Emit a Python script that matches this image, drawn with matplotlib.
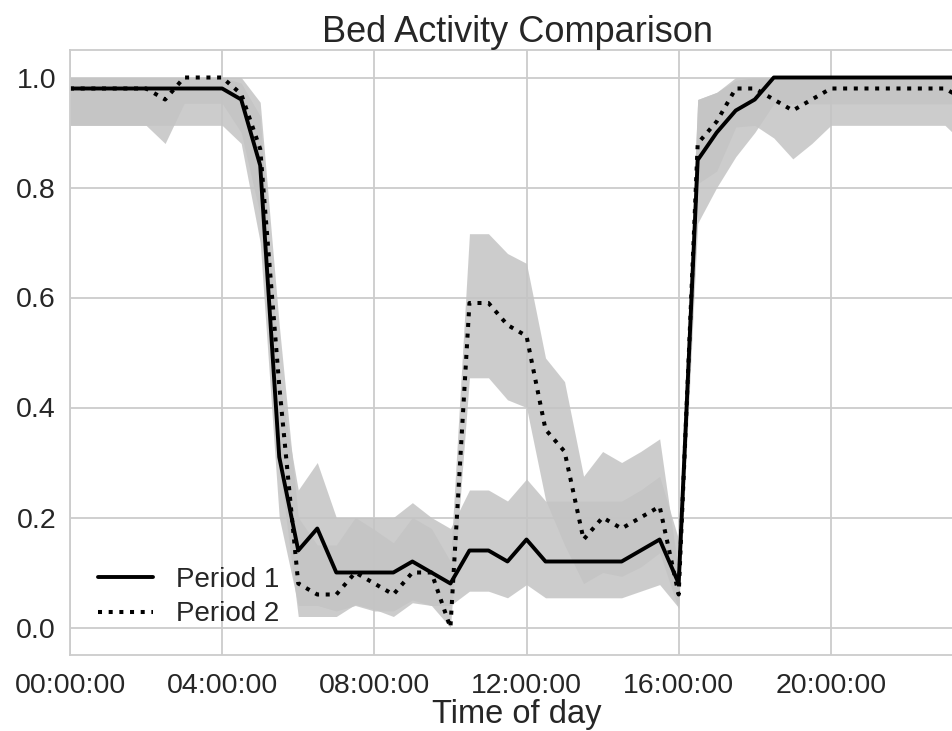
import numpy as np
import matplotlib
matplotlib.use("Agg")
import matplotlib.pyplot as plt
import seaborn as sns

# ---- data (30-minute steps, 00:00 .. 23:30) ----
hours = np.arange(48) * 0.5

period1_mean = [0.98] * 9 + [0.96, 0.84, 0.31, 0.14, 0.18, 0.10, 0.10, 0.10, 0.10,
                             0.12, 0.10, 0.08, 0.14, 0.14, 0.12, 0.16, 0.12, 0.12,
                             0.12, 0.12, 0.12, 0.14, 0.16, 0.08, 0.85, 0.90, 0.94,
                             0.96] + [1.0] * 11
period1_low = [0.913] * 9 + [0.88, 0.70, 0.20, 0.04, 0.04, 0.03, 0.04, 0.03, 0.03,
                             0.05, 0.04, 0.04, 0.066, 0.066, 0.054, 0.078, 0.054,
                             0.054, 0.054, 0.054, 0.054, 0.066, 0.078, 0.036, 0.735,
                             0.80, 0.856, 0.90] + [0.952] * 11
period1_high = [1.0] * 9 + [0.99, 0.93, 0.45, 0.25, 0.30, 0.20, 0.20, 0.20, 0.20,
                            0.227, 0.20, 0.18, 0.25, 0.25, 0.23, 0.27, 0.23, 0.23,
                            0.23, 0.23, 0.23, 0.25, 0.275, 0.16, 0.96, 0.973, 0.995,
                            1.0] + [1.0] * 11

period2_mean = [0.98] * 5 + [0.96, 1.0, 1.0, 1.0, 0.97, 0.87, 0.44, 0.08, 0.06, 0.06,
                             0.10, 0.08, 0.06, 0.10, 0.10, 0.00, 0.59, 0.59, 0.55,
                             0.53, 0.36, 0.32, 0.16, 0.20, 0.18, 0.20, 0.22, 0.06,
                             0.88, 0.92, 0.98, 0.98, 0.96, 0.94, 0.96] + [0.98] * 7 + [0.96]
period2_low = [0.913] * 5 + [0.88, 0.953, 0.953, 0.953, 0.90, 0.75, 0.30, 0.02, 0.02,
                             0.02, 0.042, 0.033, 0.02, 0.045, 0.04, 0.0, 0.454, 0.454,
                             0.414, 0.40, 0.232, 0.15, 0.08, 0.10, 0.093, 0.11, 0.136,
                             0.033, 0.807, 0.83, 0.91, 0.913, 0.89, 0.852, 0.88] + [0.913] * 7 + [0.88]
period2_high = [1.0] * 10 + [0.955, 0.55, 0.20, 0.15, 0.15, 0.20, 0.178, 0.154, 0.20,
                             0.18, 0.12, 0.716, 0.716, 0.68, 0.662, 0.49, 0.447, 0.275,
                             0.32, 0.30, 0.32, 0.343, 0.10, 0.96, 0.973] + [1.0] * 13

tick_hours = [0, 4, 8, 12, 16, 20]
tick_labels = ["00:00:00", "04:00:00", "08:00:00", "12:00:00", "16:00:00", "20:00:00"]
y_ticks = [0.0, 0.2, 0.4, 0.6, 0.8, 1.0]

sns.set_style("whitegrid")
plt.rcParams["font.family"] = ["Liberation Sans", "DejaVu Sans"]

W, H = 952, 731
fig = plt.figure(figsize=(W / 100, H / 100), dpi=100)
ax = fig.add_axes([70 / W, 1 - 655 / H, (964 - 70) / W, (655 - 50) / H])

band_color = "#c4c4c4"
ax.fill_between(hours, period1_low, period1_high, color=band_color, alpha=0.85, lw=0)
ax.fill_between(hours, period2_low, period2_high, color=band_color, alpha=0.85, lw=0)
ax.plot(hours, period1_mean, color="black", lw=2.8, ls="-", label="Period 1")
ax.plot(hours, period2_mean, color="black", lw=2.9, ls=":", label="Period 2")

ax.set_xlim(hours[0], hours[-1])
ax.set_ylim(-0.05, 1.05)
ax.set_xticks(tick_hours)
ax.set_xticklabels(tick_labels)
ax.set_yticks(y_ticks)
ax.set_yticklabels([f"{v:.1f}" for v in y_ticks])
ax.tick_params(axis="both", labelsize=20.5, colors="0.15", length=0)
ax.tick_params(axis="x", pad=13)
ax.tick_params(axis="y", pad=10)
ax.grid(True, color="0.8", lw=1.3)
for s in ax.spines.values():
    s.set_color("0.8")
    s.set_linewidth(1.3)

ax.set_title("Bed Activity Comparison", fontsize=26, color="0.15", pad=6)
ax.set_xlabel("Time of day", fontsize=23.5, color="0.15", labelpad=0)

leg = ax.legend(loc="lower left", frameon=False, fontsize=20, handlelength=2.0,
                borderaxespad=0.6, labelspacing=0.3)
for t in leg.get_texts():
    t.set_color("0.15")

fig.savefig("out.png", dpi=100)
